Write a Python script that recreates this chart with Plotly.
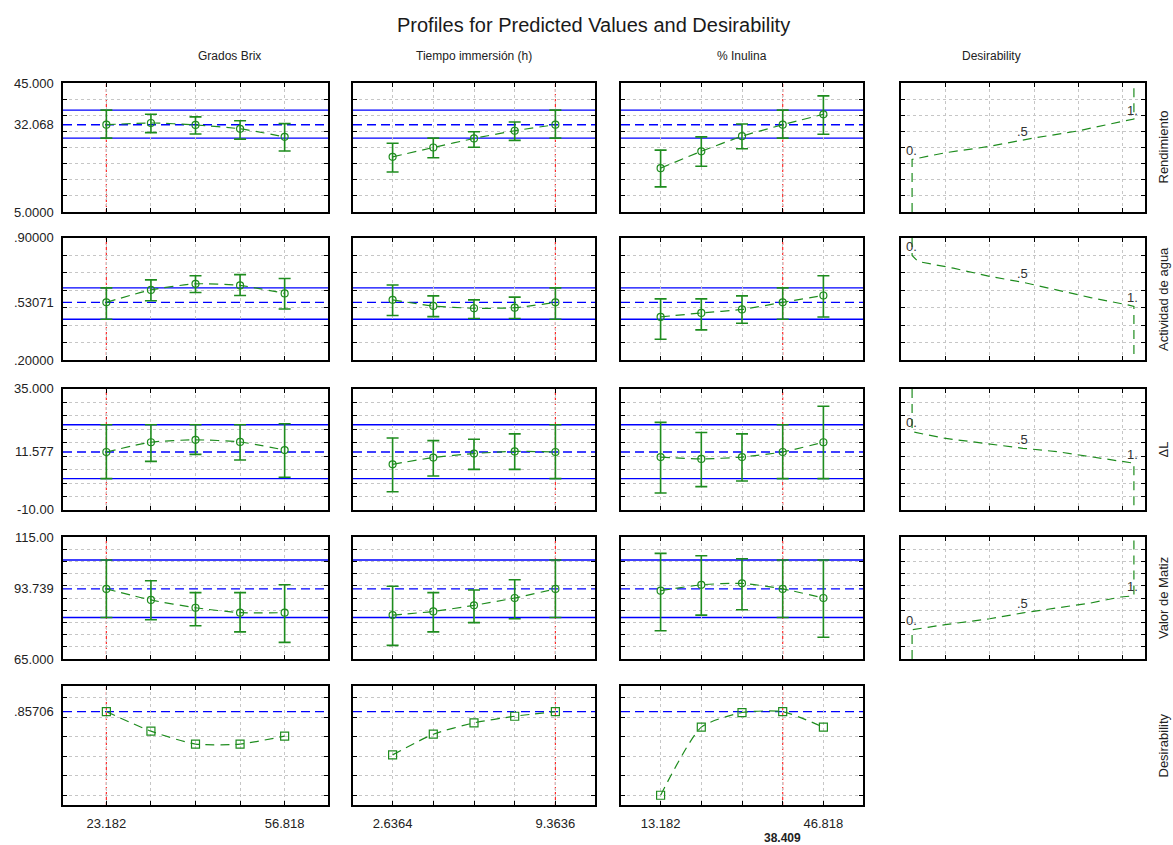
import numpy as np
import plotly.graph_objects as go

# ---------------- factor settings ----------------
factor_titles = ["Grados Brix", "Tiempo immersión (h)", "% Inulina"]
brix_levels = [23.182, 31.591, 40.0, 48.409, 56.818]
tiempo_levels = [2.6364, 4.3182, 6.0, 7.6818, 9.3636]
inulina_levels = [13.182, 21.591, 30.0, 38.409, 46.818]
current_setting = [23.182, 9.3636, 38.409]

# ---------------- predicted responses: [Brix, Tiempo, Inulina] ----------------
rend_pred = [[32.068, 32.6, 32.0, 30.8, 28.3],
             [22.1, 25.0, 27.8, 30.2, 32.068],
             [18.6, 23.8, 28.5, 32.068, 35.3]]
rend_lo = [[27.9, 29.6, 29.2, 27.6, 23.9],
           [17.4, 21.8, 25.1, 27.2, 27.9],
           [12.8, 19.2, 24.6, 27.9, 29.1]]
rend_hi = [[36.6, 35.3, 34.5, 33.3, 32.4],
           [26.3, 27.9, 29.9, 32.9, 36.6],
           [24.2, 28.3, 32.3, 36.6, 41.0]]

aw_pred = [[0.53071, 0.602, 0.637, 0.628, 0.582],
           [0.545, 0.51, 0.497, 0.5, 0.53071],
           [0.447, 0.47, 0.49, 0.53071, 0.57]]
aw_lo = [[0.434, 0.54, 0.587, 0.57, 0.493],
         [0.455, 0.449, 0.438, 0.438, 0.434],
         [0.319, 0.373, 0.411, 0.434, 0.447]]
aw_hi = [[0.614, 0.66, 0.683, 0.69, 0.668],
         [0.63, 0.568, 0.545, 0.561, 0.614],
         [0.551, 0.551, 0.568, 0.614, 0.683]]

dl_pred = [[11.577, 15.2, 16.1, 15.3, 12.3],
           [7.0, 9.5, 11.0, 11.8, 11.577],
           [9.7, 9.0, 9.7, 11.577, 15.2]]
dl_lo = [[1.65, 8.1, 10.7, 8.6, 2.2],
         [-3.2, 2.65, 5.1, 5.1, 1.65],
         [-3.7, -1.3, 0.8, 1.65, 1.65]]
dl_hi = [[21.7, 21.7, 21.7, 21.7, 22.1],
         [16.8, 15.8, 16.3, 18.3, 21.7],
         [22.6, 18.8, 18.3, 21.7, 28.6]]

matiz_pred = [[93.739, 89.2, 86.0, 84.0, 84.0],
              [83.0, 84.5, 87.0, 90.0, 93.739],
              [93.0, 95.4, 96.0, 93.739, 90.0]]
matiz_lo = [[82.0, 81.1, 78.6, 76.1, 71.8],
            [70.6, 76.1, 79.9, 81.5, 82.0],
            [76.6, 83.0, 85.2, 82.0, 73.9]]
matiz_hi = [[105.6, 97.1, 92.2, 92.2, 95.4],
            [94.8, 92.2, 93.3, 97.5, 105.6],
            [108.3, 107.3, 106.1, 105.6, 105.6]]

# ---------------- overall desirability per factor ----------------
desir_brix = [0.85706, 0.657, 0.525, 0.525, 0.606]
desir_tiempo = [0.414, 0.626, 0.742, 0.81, 0.85706]
desir_inulina = [0.0, 0.698, 0.848, 0.85706, 0.698]
desir_current = 0.85706

# ---------------- individual desirability functions (d vs response) ----------------
rend_d = [0.0, 0.152, 0.34, 0.545, 0.745, 0.94, 1.0]
rend_y = [21.3, 23.4, 25.25, 27.9, 30.1, 33.0, 33.8]
aw_d = [0.0, 0.027, 0.186, 0.353, 0.502, 0.67, 0.805, 0.973, 1.0]
aw_y = [0.80, 0.765, 0.727, 0.679, 0.645, 0.597, 0.558, 0.516, 0.507]
dl_d = [0.0, 0.145, 0.35, 0.5, 0.654, 0.805, 0.955, 1.0]
dl_y = [19.1, 16.7, 14.4, 12.95, 11.7, 9.9, 8.0, 7.4]
matiz_d = [0.0, 0.15, 0.35, 0.5, 0.656, 0.805, 0.94, 1.0]
matiz_y = [77.0, 79.1, 81.5, 83.9, 85.9, 87.95, 90.4, 90.9]

# ---------------- styling / layout ----------------
GREEN = "#1e8c1e"
BLUE = "#0000ff"
RED = "#ff2a2a"
GRID = "#c6c6c6"
FONT = "Arial, 'Liberation Sans', sans-serif"
W, H = 1173, 845

col_px = [(63, 328), (353, 595), (621, 863), (901, 1145)]
row_px = [(83, 212), (238, 360), (389, 510), (537, 659), (686, 805)]
factor_ranges = [[15, 65], [1, 11], [5, 55]]
factor_levels = [brix_levels, tiempo_levels, inulina_levels]
d_range = [-0.05, 1.05]
d_grid = [0.15, 0.35, 0.55, 0.75, 0.95]

responses = [
    dict(name="Rendimiento", pred=rend_pred, lo=rend_lo, hi=rend_hi,
         rng=[5, 45], step=5, d=rend_d, y=rend_y),
    dict(name="Actividad de agua", pred=aw_pred, lo=aw_lo, hi=aw_hi,
         rng=[0.2, 0.9], step=0.1, d=aw_d, y=aw_y),
    dict(name="ΔL", pred=dl_pred, lo=dl_lo, hi=dl_hi,
         rng=[-10, 35], step=5, d=dl_d, y=dl_y),
    dict(name="Valor de Matiz", pred=matiz_pred, lo=matiz_lo, hi=matiz_hi,
         rng=[65, 115], step=5, d=matiz_d, y=matiz_y),
]
desir_rows = [desir_brix, desir_tiempo, desir_inulina]


def fmt6(v):
    for dec in range(5, -1, -1):
        s = f"{v:.{dec}f}"
        if s.startswith("0."):
            s = s[1:]
        elif s.startswith("-0."):
            s = "-" + s[2:]
        if len(s) <= 6:
            return s
    return str(v)


def ax_num(r, c):
    return r * 4 + c + 1 if r < 4 else 17 + c


def xname(n):
    return "x" if n == 1 else f"x{n}"


def yname(n):
    return "y" if n == 1 else f"y{n}"


def grid_vals(lo, hi, step):
    k = int(round((hi - lo) / step))
    return [round(lo + i * step, 6) for i in range(1, k)]


fig = go.Figure()
layout = dict(width=W, height=H, margin=dict(l=0, r=0, t=0, b=0),
              paper_bgcolor="white", plot_bgcolor="white", showlegend=False,
              font=dict(family=FONT, size=12, color="#222"))
shapes, annotations = [], []

common = dict(ticks="inside", ticklen=4, tickwidth=1, tickcolor="black",
              showline=True, linecolor="black", linewidth=1.5, mirror="allticks",
              showgrid=True, gridcolor=GRID, griddash="dot", gridwidth=1,
              zeroline=False, fixedrange=True)


def add_axes(r, c, xrange, xticks, yrange, yticks, xlabels=None):
    n = ax_num(r, c)
    x0, x1 = col_px[c]
    y0, y1 = row_px[r]
    xa = dict(domain=[x0 / W, x1 / W], anchor=yname(n), range=xrange,
              tickvals=xticks, showticklabels=xlabels is not None, **common)
    if xlabels is not None:
        xa.update(ticktext=xlabels, tickfont=dict(size=13, color="#222"),
                  ticklabelstandoff=6)
    ya = dict(domain=[1 - y1 / H, 1 - y0 / H], anchor=xname(n), range=yrange,
              tickvals=yticks, showticklabels=False, **common)
    layout["xaxis" if n == 1 else f"xaxis{n}"] = xa
    layout["yaxis" if n == 1 else f"yaxis{n}"] = ya
    return n


def hline(n, yv, dash):
    return dict(type="line", xref=f"{xname(n)} domain", yref=yname(n),
                x0=0, x1=1, y0=yv, y1=yv, layer="below",
                line=dict(color=BLUE, width=1.4, dash=dash))


def vline(n, xv):
    return dict(type="line", xref=xname(n), yref=f"{yname(n)} domain",
                x0=xv, x1=xv, y0=0, y1=1, layer="below",
                line=dict(color=RED, width=1.2, dash="3px,2px"))


for r, resp in enumerate(responses):
    ylo, yhi = resp["rng"]
    yg = grid_vals(ylo, yhi, resp["step"])
    for c in range(3):
        levels = factor_levels[c]
        n = add_axes(r, c, factor_ranges[c], levels, [ylo, yhi], yg)
        idx = levels.index(current_setting[c])
        pred = np.array(resp["pred"][c])
        lo = np.array(resp["lo"][c])
        hi = np.array(resp["hi"][c])
        # confidence limits and prediction at the current setting
        shapes.append(hline(n, float(lo[idx]), "solid"))
        shapes.append(hline(n, float(hi[idx]), "solid"))
        shapes.append(hline(n, float(pred[idx]), "9px,5px"))
        shapes.append(vline(n, current_setting[c]))
        fig.add_trace(go.Scatter(
            x=levels, y=pred, xaxis=xname(n), yaxis=yname(n), mode="lines+markers",
            line=dict(color=GREEN, width=1.2, dash="9px,6px", shape="spline", smoothing=0.6),
            marker=dict(symbol="circle-open", size=7, color=GREEN, line=dict(width=1.2)),
            error_y=dict(type="data", symmetric=False, array=hi - pred, arrayminus=pred - lo,
                         color=GREEN, thickness=1.6, width=6),
            hoverinfo="skip"))

    # desirability function panel
    n = add_axes(r, 3, d_range, d_grid, [ylo, yhi], yg)
    d = list(resp["d"])
    yv = list(resp["y"])
    rising = yv[-1] > yv[0]
    start = ylo if rising else yhi
    end = yhi if rising else ylo
    fig.add_trace(go.Scatter(
        x=[0.0] + d + [1.0], y=[start] + yv + [end], xaxis=xname(n), yaxis=yname(n),
        mode="lines", line=dict(color=GREEN, width=1.2, dash="9px,6px"), hoverinfo="skip"))
    for dv, txt in ((0.0, "0."), (0.5, ".5"), (1.0, "1.")):
        annotations.append(dict(xref=xname(n), yref=yname(n), x=dv,
                                y=float(np.interp(dv, d, yv)), text=txt, showarrow=False,
                                yshift=9, xshift=-1, font=dict(size=13, color="#333")))

    # left-hand value labels
    n1 = ax_num(r, 0)
    cur = resp["pred"][0][factor_levels[0].index(current_setting[0])]
    for v in (yhi, cur, ylo):
        annotations.append(dict(xref="paper", yref=yname(n1), x=56 / W, y=v,
                                xanchor="right", yanchor="middle",
                                text=fmt6(v), showarrow=False, font=dict(size=13, color="#222")))

# overall desirability row
for c in range(3):
    levels = factor_levels[c]
    labels = [fmt6(levels[0]), "", "", "", fmt6(levels[-1])]
    n = add_axes(4, c, factor_ranges[c], levels, [-0.1, 1.12],
                 [0.0, 0.2, 0.4, 0.6, 0.8, 1.0], xlabels=labels)
    shapes.append(hline(n, desir_current, "9px,5px"))
    shapes.append(vline(n, current_setting[c]))
    fig.add_trace(go.Scatter(
        x=levels, y=desir_rows[c], xaxis=xname(n), yaxis=yname(n), mode="lines+markers",
        line=dict(color=GREEN, width=1.2, dash="9px,6px", shape="spline", smoothing=0.6),
        marker=dict(symbol="square-open", size=8, color=GREEN, line=dict(width=1.2)),
        hoverinfo="skip"))
    if current_setting[c] not in (levels[0], levels[-1]):
        annotations.append(dict(xref=xname(n), yref="paper", x=current_setting[c],
                                y=1 - 838 / H, yanchor="middle",
                                text=f"<b>{fmt6(current_setting[c])}</b>",
                                showarrow=False, font=dict(size=12, color="#222")))

annotations.append(dict(xref="paper", yref=yname(ax_num(4, 0)), x=56 / W, y=desir_current,
                        xanchor="right", yanchor="middle", text=fmt6(desir_current),
                        showarrow=False, font=dict(size=13, color="#222")))

# titles
annotations.append(dict(xref="paper", yref="paper", x=593 / W, y=1 - 25 / H, yanchor="middle",
                        text="Profiles for Predicted Values and Desirability",
                        showarrow=False, font=dict(size=20, color="#1a1a1a")))
for c, t in enumerate(factor_titles + ["Desirability"]):
    x0, x1 = col_px[c]
    annotations.append(dict(xref="paper", yref="paper", x=(x0 + x1) / 2 / W, y=1 - 56 / H,
                            yanchor="middle", text=t, showarrow=False,
                            font=dict(size=12, color="#222")))
for r, t in enumerate([resp["name"] for resp in responses] + ["Desirability"]):
    y0, y1 = row_px[r]
    annotations.append(dict(xref="paper", yref="paper", x=1163 / W, y=1 - (y0 + y1) / 2 / H,
                            xanchor="center", yanchor="middle",
                            text=t, textangle=-90, showarrow=False,
                            font=dict(size=13, color="#222")))

layout["shapes"] = shapes
layout["annotations"] = annotations
fig.update_layout(**layout)
fig.write_html("out.html")
